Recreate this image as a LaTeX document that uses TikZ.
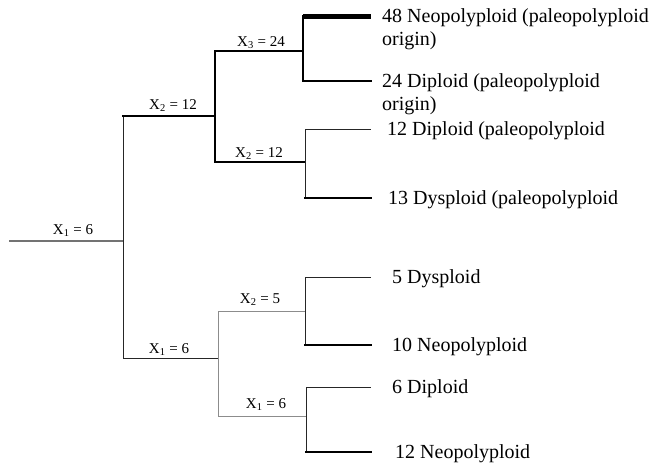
\documentclass[tikz,border=0pt]{standalone}
\usepackage{fontspec}
\setmainfont{Liberation Serif}
\begin{document}
\begin{tikzpicture}[x=1pt,y=-1pt,
  thinline/.style={line width=1pt, black!85},
  greyline/.style={line width=1pt, black!45},
  rootline/.style={line width=1.6pt, black!55},
  thickline/.style={line width=2.7pt, black, line cap=rect},
  heavyline/.style={line width=5pt, black},
  rate/.style={font=\fontsize{15}{15}\selectfont, anchor=base, inner sep=0pt},
  taxon/.style={font=\fontsize{20}{23}\selectfont, anchor=base west, align=left, inner sep=0pt}]
\useasboundingbox (0,0) rectangle (655,464);

% branch points
\coordinate (root) at (9,241);
\coordinate (n1)  at (123,241);
\coordinate (n1t) at (123,116);
\coordinate (n1b) at (123,358);
\coordinate (n2)  at (215,116);
\coordinate (n2t) at (215,51);
\coordinate (n2b) at (215,162);
\coordinate (n3)  at (303,51);
\coordinate (n3t) at (303,16);
\coordinate (n3b) at (303,81);
\coordinate (n4)  at (305,162);
\coordinate (n4t) at (305,129);
\coordinate (n4b) at (305,198);
\coordinate (n5)  at (218,358);
\coordinate (n5t) at (218,311);
\coordinate (n5b) at (218,416);
\coordinate (n6)  at (305,311);
\coordinate (n6t) at (305,277);
\coordinate (n6b) at (305,345);
\coordinate (n7)  at (306,416);
\coordinate (n7t) at (306,387);
\coordinate (n7b) at (306,452);

% tips
\coordinate (l1) at (371,16);
\coordinate (l2) at (371,81);
\coordinate (l3) at (371,129);
\coordinate (l4) at (371,198);
\coordinate (l5) at (371,277);
\coordinate (l6) at (371,345);
\coordinate (l7) at (371,387);
\coordinate (l8) at (371,452);

% stem and first split
\draw[rootline] (root) -- (n1);
\draw[thinline] (n1t) -- (n1b);

% upper clade
\draw[thickline] (n1t) -- (n2);
\draw[thickline] (n2t) -- (n2b);
\draw[thickline] (n2t) -- (n3);
\draw[thickline] (n3t) -- (n3b);
\draw[heavyline] (n3t) -- (l1);
\draw[thickline] (n3b) -- (l2);
\draw[thickline] (n2b) -- (n4);
\draw[thinline] (n4t) -- (n4b);
\draw[thinline] (n4t) -- (l3);
\draw[thickline] (n4b) -- (l4);

% lower clade
\draw[thinline] (n1b) -- (n5);
\draw[greyline] (n5t) -- (n5b);
\draw[greyline] (n5t) -- (n6);
\draw[thinline] (n6t) -- (n6b);
\draw[thinline] (n6t) -- (l5);
\draw[thickline] (n6b) -- (l6);
\draw[greyline] (n5b) -- (n7);
\draw[thinline] (n7t) -- (n7b);
\draw[thinline] (n7t) -- (l7);
\draw[thickline] (n7b) -- (l8);

% base numbers on branches
\node[rate] (r1) at (73,234) {X\textsubscript{1} = 6};
\node[rate] (r2) at (173,109) {X\textsubscript{2} = 12};
\node[rate] (r3) at (261,46) {X\textsubscript{3} = 24};
\node[rate] (r4) at (259,157) {X\textsubscript{2} = 12};
\node[rate] (r5) at (169,353) {X\textsubscript{1} = 6};
\node[rate] (r6) at (260,303) {X\textsubscript{2} = 5};
\node[rate] (r7) at (266,408) {X\textsubscript{1} = 6};

% tip labels (multi-line labels are placed by their last baseline)
\node[taxon] (t1) at (382,45) {48 Neopolyploid (paleopolyploid\\origin)};
\node[taxon] (t2) at (382,110) {24 Diploid (paleopolyploid\\origin)};
\node[taxon] (t3) at (387,135) {12 Diploid (paleopolyploid};
\node[taxon] (t4) at (388,204) {13 Dysploid (paleopolyploid};
\node[taxon] (t5) at (392,283) {5 Dysploid};
\node[taxon] (t6) at (392,351) {10 Neopolyploid};
\node[taxon] (t7) at (392,393) {6 Diploid};
\node[taxon] (t8) at (395,458) {12 Neopolyploid};
\end{tikzpicture}
\end{document}
